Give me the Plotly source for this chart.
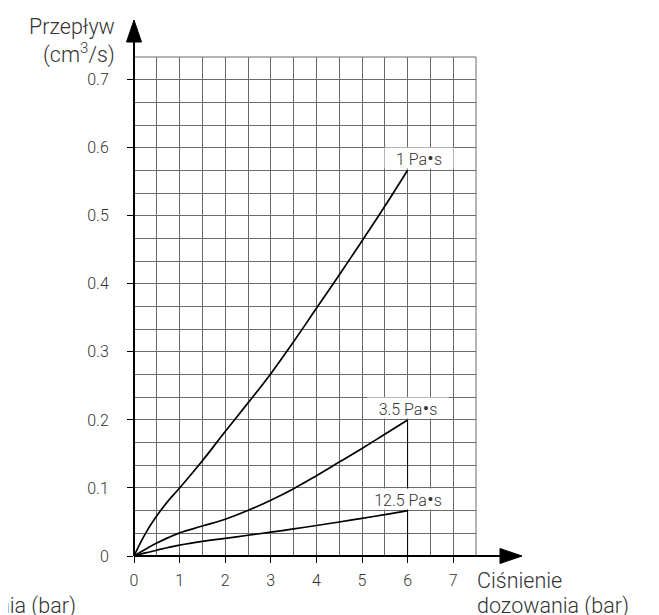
import plotly.graph_objects as go

# ---- data ----
pressure = [0, 0.25, 0.5, 0.75, 1, 1.5, 2, 2.5, 3, 3.5, 4, 4.5, 5, 5.5, 6]
flow_1 = [0, 0.033, 0.059, 0.081, 0.100, 0.140, 0.183, 0.225, 0.268, 0.315, 0.364, 0.413, 0.463, 0.514, 0.567]
flow_3_5 = [0, 0.010, 0.019, 0.027, 0.034, 0.044, 0.054, 0.067, 0.082, 0.099, 0.118, 0.138, 0.158, 0.179, 0.200]
flow_12_5 = [0, 0.0045, 0.0085, 0.0125, 0.0160, 0.0215, 0.0260, 0.0305, 0.0350, 0.0398, 0.0448, 0.0500, 0.0553, 0.0608, 0.0667]
series_names = ["1 Pa•s", "3.5 Pa•s", "12.5 Pa•s"]
x_ticks = [0, 1, 2, 3, 4, 5, 6, 7]
x_tick_text = ["0", "1", "2", "3", "4", "5", "6", "7"]
y_ticks = [0, 0.1, 0.2, 0.3, 0.4, 0.5, 0.6, 0.7]
y_tick_text = ["0", "0.1", "0.2", "0.3", "0.4", "0.5", "0.6", "0.7"]

FONT = "Roboto"
WEIGHT = 300
TXT = "#333333"
GRID = "#6a6a6a"

fig = go.Figure()
for ys in (flow_1, flow_3_5, flow_12_5):
    fig.add_trace(go.Scatter(x=pressure, y=ys, mode="lines",
                             line=dict(color="black", width=1.7, shape="spline", smoothing=1.2),
                             hoverinfo="skip", showlegend=False))
# drop line from the 3.5 Pa·s end point
fig.add_trace(go.Scatter(x=[pressure[-1], pressure[-1]], y=[flow_3_5[-1], 0], mode="lines",
                         line=dict(color="black", width=1), hoverinfo="skip", showlegend=False))

X_MAX = 7.5
Y_MAX = 22 / 30

tickfont = dict(family=FONT, size=16, color=TXT, weight=WEIGHT)
fig.update_xaxes(range=[0, X_MAX], tickvals=x_ticks, ticktext=x_tick_text,
                 showgrid=True, gridcolor=GRID, gridwidth=1,
                 minor=dict(dtick=0.5, tick0=0, showgrid=True, gridcolor=GRID, gridwidth=1, ticks=""),
                 ticks="outside", ticklen=6, tickcolor="black", tickwidth=1,
                 ticklabelstandoff=4,
                 showline=False, zeroline=False,
                 tickfont=tickfont, fixedrange=True)
fig.update_yaxes(range=[0, Y_MAX], tickvals=y_ticks, ticktext=y_tick_text,
                 showgrid=True, gridcolor=GRID, gridwidth=1,
                 minor=dict(dtick=1 / 30, tick0=0, showgrid=True, gridcolor=GRID, gridwidth=1, ticks=""),
                 ticks="outside", ticklen=6, tickcolor="black", tickwidth=1,
                 ticklabelstandoff=15,
                 showline=False, zeroline=False,
                 tickfont=tickfont, fixedrange=True)

W, H = 659, 615
L, R, T, B = 126, 191, 49, 67
pw, ph = W - L - R, H - T - B

def px_x(p):
    return (p - L) / pw

def px_y(p):
    return (H - B - p) / ph

shapes = []
# top & right grid borders
shapes.append(dict(type="line", xref="paper", yref="paper", x0=0, x1=1, y0=1, y1=1,
                   line=dict(color=GRID, width=1), layer="below"))
shapes.append(dict(type="line", xref="paper", yref="paper", x0=1, x1=1, y0=0, y1=1,
                   line=dict(color=GRID, width=1), layer="below"))
# axis lines with arrows
shapes.append(dict(type="line", xref="paper", yref="paper", x0=0, x1=px_x(494), y0=0, y1=0,
                   line=dict(color="black", width=2)))
shapes.append(dict(type="line", xref="paper", yref="paper", x0=0, x1=0, y0=0, y1=px_y(31),
                   line=dict(color="black", width=2)))
hx = 7.5 / pw
hy = 7.5 / ph
xb, xt = px_x(492), px_x(514)
shapes.append(dict(type="path", xref="paper", yref="paper",
                   path=f"M {xb},{hy} L {xt},0 L {xb},{-hy} Z",
                   fillcolor="black", line=dict(color="black", width=1)))
yb, yt = px_y(34), px_y(12)
shapes.append(dict(type="path", xref="paper", yref="paper",
                   path=f"M {-hx},{yb} L 0,{yt} L {hx},{yb} Z",
                   fillcolor="black", line=dict(color="black", width=1)))

lab_font = dict(family=FONT, size=16, color=TXT, weight=WEIGHT)
title_font = dict(family=FONT, size=21.5, color=TXT, weight=WEIGHT)

def big_dot(name):
    return name.replace("•", "<span style='font-size:21px'>•</span>")

annotations = []
ends = [(flow_1[-1], 11, 68), (flow_3_5[-1], 0, 80), (flow_12_5[-1], 0, 80)]
for name, (yv, xs, wd) in zip(series_names, ends):
    annotations.append(dict(x=pressure[-1], y=yv, xref="x", yref="y", text=big_dot(name),
                            showarrow=False, xanchor="center", yanchor="bottom",
                            xshift=xs, yshift=1, width=wd, height=20, borderpad=0,
                            bgcolor="white", font=lab_font))
# axis titles
annotations.append(dict(x=px_x(109), y=px_y(18), xref="paper", yref="paper", text="Przepływ",
                        showarrow=False, xanchor="right", yanchor="middle", font=title_font))
annotations.append(dict(x=px_x(109), y=px_y(45), xref="paper", yref="paper", text="(cm<sup>3</sup>/s)",
                        showarrow=False, xanchor="right", yanchor="middle", font=title_font))
annotations.append(dict(x=px_x(467), y=px_y(572), xref="paper", yref="paper", text="Ciśnienie",
                        showarrow=False, xanchor="left", yanchor="middle", font=title_font))
annotations.append(dict(x=px_x(467), y=px_y(598), xref="paper", yref="paper", text="dozowania (bar)",
                        showarrow=False, xanchor="left", yanchor="middle", font=title_font))
annotations.append(dict(x=px_x(70), y=px_y(598), xref="paper", yref="paper", text="dozowania (bar)",
                        showarrow=False, xanchor="right", yanchor="middle", font=title_font))

fig.update_layout(width=W, height=H, margin=dict(l=L, r=R, t=T, b=B),
                  paper_bgcolor="white", plot_bgcolor="white",
                  shapes=shapes, annotations=annotations, showlegend=False,
                  font=dict(family=FONT, color=TXT))

fig.write_html("out.html", config={"displayModeBar": False})
